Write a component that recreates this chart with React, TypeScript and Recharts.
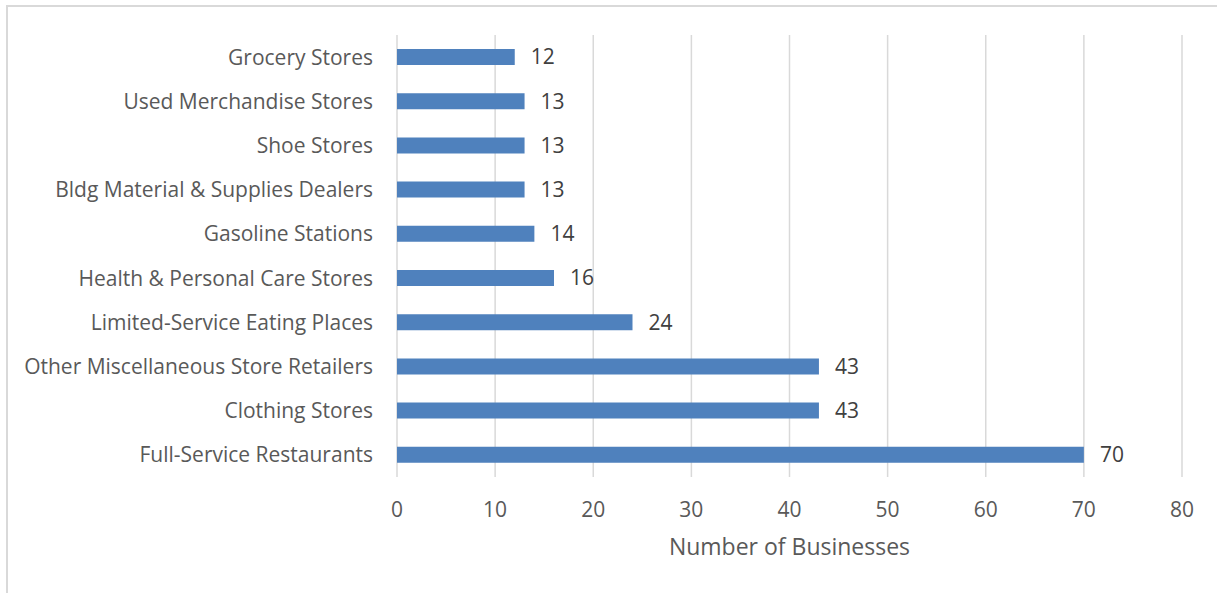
import React from "react";
import { BarChart, Bar, XAxis, YAxis, CartesianGrid, LabelList } from "recharts";

const categories = [
  "Grocery Stores",
  "Used Merchandise Stores",
  "Shoe Stores",
  "Bldg Material & Supplies Dealers",
  "Gasoline Stations",
  "Health & Personal Care Stores",
  "Limited-Service Eating Places",
  "Other Miscellaneous Store Retailers",
  "Clothing Stores",
  "Full-Service Restaurants",
];
const businesses = [12, 13, 13, 13, 14, 16, 24, 43, 43, 70];
const xTicks = [0, 10, 20, 30, 40, 50, 60, 70, 80];

const data = categories.map((c, i) => ({ name: c, value: businesses[i] }));

const FONT = "'Open Sans', sans-serif";

export default function App() {
  return (
    <div style={{ position: "absolute", left: 0, top: 0, width: 1217, height: 593, overflow: "hidden", background: "#fff" }}>
      <div
        style={{
          position: "absolute",
          left: 6,
          top: 5,
          width: 1260,
          height: 640,
          boxSizing: "border-box",
          border: "2px solid #d9d9d9",
        }}
      />
      <div style={{ position: "absolute", left: 0, top: 0 }}>
        <BarChart
          width={1217}
          height={593}
          layout="vertical"
          data={data}
          margin={{ top: 35, right: 35, bottom: 56, left: 0 }}
        >
          <CartesianGrid horizontal={false} stroke="#d9d9d9" strokeWidth={1.5} />
          <XAxis
            type="number"
            domain={[0, 80]}
            ticks={xTicks}
            axisLine={false}
            tickLine={false}
            tickSize={0}
            tickMargin={25}
            height={60}
            tick={{ fill: "#595959", fontSize: 21, fontFamily: FONT }}
            label={{
              value: "Number of Businesses",
              position: "bottom",
              offset: 2,
              fill: "#595959",
              fontSize: 23,
              fontFamily: FONT,
            }}
          />
          <YAxis
            type="category"
            dataKey="name"
            width={397}
            axisLine={false}
            tickLine={false}
            tickSize={0}
            tickMargin={24}
            interval={0}
            tick={{ fill: "#595959", fontSize: 21, fontFamily: FONT }}
          />
          <Bar dataKey="value" fill="#4F81BD" barSize={16} isAnimationActive={false}>
            <LabelList
              dataKey="value"
              position="right"
              offset={16}
              fill="#404040"
              fontSize={21}
              fontFamily={FONT}
            />
          </Bar>
        </BarChart>
      </div>
    </div>
  );
}
